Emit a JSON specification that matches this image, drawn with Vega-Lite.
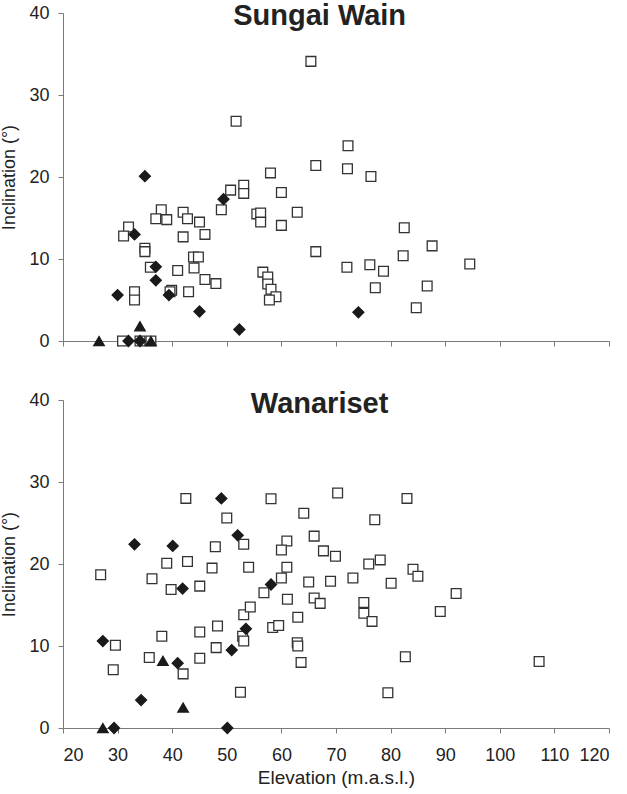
{
  "$schema": "https://vega.github.io/schema/vega-lite/v6.json",
  "background": "white",
  "padding": {"left": 0, "top": 1, "right": 5, "bottom": 5},
  "spacing": 40,
  "config": {
    "view": {"stroke": null},
    "font": "Liberation Sans",
    "axis": {
      "grid": false,
      "domainColor": "#7a7a7a",
      "tickColor": "#7a7a7a",
      "tickSize": 5,
      "labelFont": "Liberation Sans",
      "labelFontSize": 18,
      "labelColor": "#222222",
      "titleFont": "Liberation Sans",
      "titleFontSize": 18,
      "titleFontWeight": "normal",
      "titleColor": "#222222"
    }
  },
  "datasets": {
    "pts": [
      {"site": "Sungai Wain", "elevation": 58.0, "inclination": 20.5, "group": "S1"},
      {"site": "Sungai Wain", "elevation": 50.7, "inclination": 18.4, "group": "S1"},
      {"site": "Sungai Wain", "elevation": 53.1, "inclination": 19.0, "group": "S1"},
      {"site": "Sungai Wain", "elevation": 53.1, "inclination": 18.0, "group": "S1"},
      {"site": "Sungai Wain", "elevation": 60.0, "inclination": 18.1, "group": "S1"},
      {"site": "Sungai Wain", "elevation": 49.0, "inclination": 16.0, "group": "S1"},
      {"site": "Sungai Wain", "elevation": 55.5, "inclination": 15.5, "group": "S1"},
      {"site": "Sungai Wain", "elevation": 56.2, "inclination": 15.6, "group": "S1"},
      {"site": "Sungai Wain", "elevation": 56.2, "inclination": 14.5, "group": "S1"},
      {"site": "Sungai Wain", "elevation": 60.0, "inclination": 14.1, "group": "S1"},
      {"site": "Sungai Wain", "elevation": 62.9, "inclination": 15.7, "group": "S1"},
      {"site": "Sungai Wain", "elevation": 38.0, "inclination": 16.0, "group": "S1"},
      {"site": "Sungai Wain", "elevation": 37.0, "inclination": 14.9, "group": "S1"},
      {"site": "Sungai Wain", "elevation": 39.0, "inclination": 14.8, "group": "S1"},
      {"site": "Sungai Wain", "elevation": 42.0, "inclination": 15.7, "group": "S1"},
      {"site": "Sungai Wain", "elevation": 42.8, "inclination": 14.9, "group": "S1"},
      {"site": "Sungai Wain", "elevation": 45.0, "inclination": 14.5, "group": "S1"},
      {"site": "Sungai Wain", "elevation": 46.0, "inclination": 13.0, "group": "S1"},
      {"site": "Sungai Wain", "elevation": 42.0, "inclination": 12.7, "group": "S1"},
      {"site": "Sungai Wain", "elevation": 32.0, "inclination": 13.9, "group": "S1"},
      {"site": "Sungai Wain", "elevation": 31.1, "inclination": 12.8, "group": "S1"},
      {"site": "Sungai Wain", "elevation": 35.0, "inclination": 11.3, "group": "S1"},
      {"site": "Sungai Wain", "elevation": 35.0, "inclination": 10.9, "group": "S1"},
      {"site": "Sungai Wain", "elevation": 43.9, "inclination": 10.25, "group": "S1"},
      {"site": "Sungai Wain", "elevation": 44.8, "inclination": 10.25, "group": "S1"},
      {"site": "Sungai Wain", "elevation": 66.3, "inclination": 10.9, "group": "S1"},
      {"site": "Sungai Wain", "elevation": 36.0, "inclination": 9.0, "group": "S1"},
      {"site": "Sungai Wain", "elevation": 41.0, "inclination": 8.6, "group": "S1"},
      {"site": "Sungai Wain", "elevation": 44.0, "inclination": 8.9, "group": "S1"},
      {"site": "Sungai Wain", "elevation": 46.0, "inclination": 7.5, "group": "S1"},
      {"site": "Sungai Wain", "elevation": 48.0, "inclination": 7.0, "group": "S1"},
      {"site": "Sungai Wain", "elevation": 56.6, "inclination": 8.4, "group": "S1"},
      {"site": "Sungai Wain", "elevation": 57.5, "inclination": 7.8, "group": "S1"},
      {"site": "Sungai Wain", "elevation": 57.5, "inclination": 6.95, "group": "S1"},
      {"site": "Sungai Wain", "elevation": 58.1, "inclination": 6.3, "group": "S1"},
      {"site": "Sungai Wain", "elevation": 59.0, "inclination": 5.4, "group": "S1"},
      {"site": "Sungai Wain", "elevation": 57.8, "inclination": 5.0, "group": "S1"},
      {"site": "Sungai Wain", "elevation": 33.1, "inclination": 6.0, "group": "S1"},
      {"site": "Sungai Wain", "elevation": 33.1, "inclination": 5.0, "group": "S1"},
      {"site": "Sungai Wain", "elevation": 39.9, "inclination": 6.2, "group": "S1"},
      {"site": "Sungai Wain", "elevation": 39.6, "inclination": 6.0, "group": "S1"},
      {"site": "Sungai Wain", "elevation": 43.0, "inclination": 6.0, "group": "S1"},
      {"site": "Sungai Wain", "elevation": 30.9, "inclination": 0, "group": "S1"},
      {"site": "Sungai Wain", "elevation": 34.1, "inclination": 0, "group": "S1"},
      {"site": "Sungai Wain", "elevation": 36.1, "inclination": 0, "group": "S1"},
      {"site": "Sungai Wain", "elevation": 65.4, "inclination": 34.1, "group": "S1"},
      {"site": "Sungai Wain", "elevation": 72.2, "inclination": 23.8, "group": "S1"},
      {"site": "Sungai Wain", "elevation": 66.3, "inclination": 21.4, "group": "S1"},
      {"site": "Sungai Wain", "elevation": 72.1, "inclination": 21.0, "group": "S1"},
      {"site": "Sungai Wain", "elevation": 76.4, "inclination": 20.05, "group": "S1"},
      {"site": "Sungai Wain", "elevation": 51.7, "inclination": 26.8, "group": "S1"},
      {"site": "Sungai Wain", "elevation": 82.5, "inclination": 13.8, "group": "S1"},
      {"site": "Sungai Wain", "elevation": 87.6, "inclination": 11.6, "group": "S1"},
      {"site": "Sungai Wain", "elevation": 82.3, "inclination": 10.4, "group": "S1"},
      {"site": "Sungai Wain", "elevation": 72.0, "inclination": 9.0, "group": "S1"},
      {"site": "Sungai Wain", "elevation": 76.2, "inclination": 9.3, "group": "S1"},
      {"site": "Sungai Wain", "elevation": 78.7, "inclination": 8.5, "group": "S1"},
      {"site": "Sungai Wain", "elevation": 94.5, "inclination": 9.4, "group": "S1"},
      {"site": "Sungai Wain", "elevation": 77.2, "inclination": 6.5, "group": "S1"},
      {"site": "Sungai Wain", "elevation": 86.7, "inclination": 6.7, "group": "S1"},
      {"site": "Sungai Wain", "elevation": 84.7, "inclination": 4.05, "group": "S1"},
      {"site": "Sungai Wain", "elevation": 35.0, "inclination": 20.1, "group": "S2"},
      {"site": "Sungai Wain", "elevation": 49.4, "inclination": 17.3, "group": "S2"},
      {"site": "Sungai Wain", "elevation": 33.1, "inclination": 13.0, "group": "S2"},
      {"site": "Sungai Wain", "elevation": 37.0, "inclination": 9.05, "group": "S2"},
      {"site": "Sungai Wain", "elevation": 37.0, "inclination": 7.4, "group": "S2"},
      {"site": "Sungai Wain", "elevation": 30.0, "inclination": 5.6, "group": "S2"},
      {"site": "Sungai Wain", "elevation": 39.4, "inclination": 5.6, "group": "S2"},
      {"site": "Sungai Wain", "elevation": 45.0, "inclination": 3.6, "group": "S2"},
      {"site": "Sungai Wain", "elevation": 52.3, "inclination": 1.4, "group": "S2"},
      {"site": "Sungai Wain", "elevation": 32.0, "inclination": 0, "group": "S2"},
      {"site": "Sungai Wain", "elevation": 34.1, "inclination": 0, "group": "S2"},
      {"site": "Sungai Wain", "elevation": 74.1, "inclination": 3.5, "group": "S2"},
      {"site": "Sungai Wain", "elevation": 26.6, "inclination": 0, "group": "S3"},
      {"site": "Sungai Wain", "elevation": 34.1, "inclination": 1.8, "group": "S3"},
      {"site": "Sungai Wain", "elevation": 36.1, "inclination": 0, "group": "S3"},

      {"site": "Wanariset", "elevation": 42.5, "inclination": 28.0, "group": "S1"},
      {"site": "Wanariset", "elevation": 58.1, "inclination": 27.95, "group": "S1"},
      {"site": "Wanariset", "elevation": 70.3, "inclination": 28.65, "group": "S1"},
      {"site": "Wanariset", "elevation": 83.0, "inclination": 28.0, "group": "S1"},
      {"site": "Wanariset", "elevation": 50.0, "inclination": 25.6, "group": "S1"},
      {"site": "Wanariset", "elevation": 64.1, "inclination": 26.2, "group": "S1"},
      {"site": "Wanariset", "elevation": 77.1, "inclination": 25.4, "group": "S1"},
      {"site": "Wanariset", "elevation": 47.9, "inclination": 22.1, "group": "S1"},
      {"site": "Wanariset", "elevation": 53.1, "inclination": 22.4, "group": "S1"},
      {"site": "Wanariset", "elevation": 61.0, "inclination": 22.8, "group": "S1"},
      {"site": "Wanariset", "elevation": 60.0, "inclination": 21.7, "group": "S1"},
      {"site": "Wanariset", "elevation": 66.0, "inclination": 23.4, "group": "S1"},
      {"site": "Wanariset", "elevation": 67.7, "inclination": 21.6, "group": "S1"},
      {"site": "Wanariset", "elevation": 69.9, "inclination": 20.95, "group": "S1"},
      {"site": "Wanariset", "elevation": 78.1, "inclination": 20.5, "group": "S1"},
      {"site": "Wanariset", "elevation": 76.0, "inclination": 20.0, "group": "S1"},
      {"site": "Wanariset", "elevation": 84.1, "inclination": 19.35, "group": "S1"},
      {"site": "Wanariset", "elevation": 85.0, "inclination": 18.5, "group": "S1"},
      {"site": "Wanariset", "elevation": 39.0, "inclination": 20.1, "group": "S1"},
      {"site": "Wanariset", "elevation": 42.8, "inclination": 20.3, "group": "S1"},
      {"site": "Wanariset", "elevation": 47.3, "inclination": 19.5, "group": "S1"},
      {"site": "Wanariset", "elevation": 54.0, "inclination": 19.6, "group": "S1"},
      {"site": "Wanariset", "elevation": 61.0, "inclination": 19.6, "group": "S1"},
      {"site": "Wanariset", "elevation": 60.0, "inclination": 18.3, "group": "S1"},
      {"site": "Wanariset", "elevation": 26.9, "inclination": 18.7, "group": "S1"},
      {"site": "Wanariset", "elevation": 36.3, "inclination": 18.2, "group": "S1"},
      {"site": "Wanariset", "elevation": 39.8, "inclination": 16.9, "group": "S1"},
      {"site": "Wanariset", "elevation": 45.05, "inclination": 17.3, "group": "S1"},
      {"site": "Wanariset", "elevation": 56.8, "inclination": 16.5, "group": "S1"},
      {"site": "Wanariset", "elevation": 65.0, "inclination": 17.8, "group": "S1"},
      {"site": "Wanariset", "elevation": 69.0, "inclination": 17.9, "group": "S1"},
      {"site": "Wanariset", "elevation": 73.1, "inclination": 18.3, "group": "S1"},
      {"site": "Wanariset", "elevation": 80.1, "inclination": 17.65, "group": "S1"},
      {"site": "Wanariset", "elevation": 92.0, "inclination": 16.4, "group": "S1"},
      {"site": "Wanariset", "elevation": 53.1, "inclination": 13.8, "group": "S1"},
      {"site": "Wanariset", "elevation": 54.3, "inclination": 14.75, "group": "S1"},
      {"site": "Wanariset", "elevation": 61.1, "inclination": 15.7, "group": "S1"},
      {"site": "Wanariset", "elevation": 66.0, "inclination": 15.85, "group": "S1"},
      {"site": "Wanariset", "elevation": 67.1, "inclination": 15.2, "group": "S1"},
      {"site": "Wanariset", "elevation": 63.0, "inclination": 13.5, "group": "S1"},
      {"site": "Wanariset", "elevation": 58.4, "inclination": 12.25, "group": "S1"},
      {"site": "Wanariset", "elevation": 59.5, "inclination": 12.5, "group": "S1"},
      {"site": "Wanariset", "elevation": 38.1, "inclination": 11.2, "group": "S1"},
      {"site": "Wanariset", "elevation": 45.05, "inclination": 11.7, "group": "S1"},
      {"site": "Wanariset", "elevation": 48.3, "inclination": 12.45, "group": "S1"},
      {"site": "Wanariset", "elevation": 52.9, "inclination": 11.2, "group": "S1"},
      {"site": "Wanariset", "elevation": 53.1, "inclination": 10.6, "group": "S1"},
      {"site": "Wanariset", "elevation": 29.6, "inclination": 10.1, "group": "S1"},
      {"site": "Wanariset", "elevation": 29.2, "inclination": 7.1, "group": "S1"},
      {"site": "Wanariset", "elevation": 35.8, "inclination": 8.6, "group": "S1"},
      {"site": "Wanariset", "elevation": 42.0, "inclination": 6.6, "group": "S1"},
      {"site": "Wanariset", "elevation": 45.05, "inclination": 8.5, "group": "S1"},
      {"site": "Wanariset", "elevation": 48.05, "inclination": 9.8, "group": "S1"},
      {"site": "Wanariset", "elevation": 62.9, "inclination": 10.4, "group": "S1"},
      {"site": "Wanariset", "elevation": 63.0, "inclination": 10.0, "group": "S1"},
      {"site": "Wanariset", "elevation": 63.6, "inclination": 8.0, "group": "S1"},
      {"site": "Wanariset", "elevation": 52.5, "inclination": 4.35, "group": "S1"},
      {"site": "Wanariset", "elevation": 75.1, "inclination": 15.3, "group": "S1"},
      {"site": "Wanariset", "elevation": 75.1, "inclination": 14.0, "group": "S1"},
      {"site": "Wanariset", "elevation": 76.6, "inclination": 13.0, "group": "S1"},
      {"site": "Wanariset", "elevation": 89.1, "inclination": 14.2, "group": "S1"},
      {"site": "Wanariset", "elevation": 82.7, "inclination": 8.7, "group": "S1"},
      {"site": "Wanariset", "elevation": 107.2, "inclination": 8.1, "group": "S1"},
      {"site": "Wanariset", "elevation": 79.5, "inclination": 4.3, "group": "S1"},
      {"site": "Wanariset", "elevation": 49.0, "inclination": 28.0, "group": "S2"},
      {"site": "Wanariset", "elevation": 52.0, "inclination": 23.5, "group": "S2"},
      {"site": "Wanariset", "elevation": 33.1, "inclination": 22.4, "group": "S2"},
      {"site": "Wanariset", "elevation": 40.1, "inclination": 22.2, "group": "S2"},
      {"site": "Wanariset", "elevation": 41.9, "inclination": 17.0, "group": "S2"},
      {"site": "Wanariset", "elevation": 58.1, "inclination": 17.5, "group": "S2"},
      {"site": "Wanariset", "elevation": 53.5, "inclination": 12.1, "group": "S2"},
      {"site": "Wanariset", "elevation": 27.3, "inclination": 10.6, "group": "S2"},
      {"site": "Wanariset", "elevation": 41.0, "inclination": 7.9, "group": "S2"},
      {"site": "Wanariset", "elevation": 50.9, "inclination": 9.5, "group": "S2"},
      {"site": "Wanariset", "elevation": 34.3, "inclination": 3.4, "group": "S2"},
      {"site": "Wanariset", "elevation": 29.35, "inclination": 0, "group": "S2"},
      {"site": "Wanariset", "elevation": 50.1, "inclination": 0, "group": "S2"},
      {"site": "Wanariset", "elevation": 38.3, "inclination": 8.2, "group": "S3"},
      {"site": "Wanariset", "elevation": 42.0, "inclination": 2.5, "group": "S3"},
      {"site": "Wanariset", "elevation": 27.3, "inclination": 0, "group": "S3"}
    ],
    "titles": [
      {"site": "Sungai Wain", "elevation": 67, "inclination": 38.55},
      {"site": "Wanariset", "elevation": 67, "inclination": 38.4}
    ]
  },
  "vconcat": [
    {
      "width": 546,
      "height": 328,
      "layer": [
        {
          "data": {"name": "pts"},
          "transform": [{"filter": "datum.site === 'Sungai Wain'"}],
          "mark": {"type": "point", "filled": true, "opacity": 1, "strokeWidth": 1.3},
          "encoding": {
            "x": {"field": "elevation", "type": "quantitative", "scale": {"domain": [20, 120], "nice": false, "zero": false},
                  "axis": {"values": [20, 30, 40, 50, 60, 70, 80, 90, 100, 110, 120], "labels": false, "title": null}},
            "y": {"field": "inclination", "type": "quantitative", "scale": {"domain": [0, 40], "nice": false},
                  "axis": {"values": [0, 10, 20, 30, 40], "title": "Inclination (°)", "labelPadding": 9, "titlePadding": 10}},
            "shape": {"field": "group", "type": "nominal", "scale": {"domain": ["S1", "S2", "S3"], "range": ["square", "diamond", "triangle-up"]}, "legend": null},
            "fill": {"field": "group", "type": "nominal", "scale": {"domain": ["S1", "S2", "S3"], "range": ["#ffffff", "#1a1a1a", "#1a1a1a"]}, "legend": null},
            "stroke": {"field": "group", "type": "nominal", "scale": {"domain": ["S1", "S2", "S3"], "range": ["#333333", "#1a1a1a", "#1a1a1a"]}, "legend": null},
            "size": {"field": "group", "type": "nominal", "scale": {"type": "ordinal", "domain": ["S1", "S2", "S3"], "range": [95, 120, 110]}, "legend": null}
          }
        },
        {
          "data": {"name": "titles"},
          "transform": [{"filter": "datum.site === 'Sungai Wain'"}],
          "mark": {"type": "text", "font": "Liberation Sans", "fontSize": 29, "fontWeight": "bold", "color": "#222222", "baseline": "alphabetic", "align": "center"},
          "encoding": {
            "x": {"field": "elevation", "type": "quantitative"},
            "y": {"field": "inclination", "type": "quantitative"},
            "text": {"field": "site", "type": "nominal"}
          }
        }
      ]
    },
    {
      "width": 546,
      "height": 328,
      "layer": [
        {
          "data": {"name": "pts"},
          "transform": [{"filter": "datum.site === 'Wanariset'"}],
          "mark": {"type": "point", "filled": true, "opacity": 1, "strokeWidth": 1.3},
          "encoding": {
            "x": {"field": "elevation", "type": "quantitative", "scale": {"domain": [20, 120], "nice": false, "zero": false},
                  "axis": {"values": [20, 30, 40, 50, 60, 70, 80, 90, 100, 110, 120], "title": "Elevation (m.a.s.l.)", "labelPadding": 13, "titlePadding": 4, "titleFontSize": 19}},
            "y": {"field": "inclination", "type": "quantitative", "scale": {"domain": [0, 40], "nice": false},
                  "axis": {"values": [0, 10, 20, 30, 40], "title": "Inclination (°)", "labelPadding": 9, "titlePadding": 10}},
            "shape": {"field": "group", "type": "nominal", "scale": {"domain": ["S1", "S2", "S3"], "range": ["square", "diamond", "triangle-up"]}, "legend": null},
            "fill": {"field": "group", "type": "nominal", "scale": {"domain": ["S1", "S2", "S3"], "range": ["#ffffff", "#1a1a1a", "#1a1a1a"]}, "legend": null},
            "stroke": {"field": "group", "type": "nominal", "scale": {"domain": ["S1", "S2", "S3"], "range": ["#333333", "#1a1a1a", "#1a1a1a"]}, "legend": null},
            "size": {"field": "group", "type": "nominal", "scale": {"type": "ordinal", "domain": ["S1", "S2", "S3"], "range": [95, 120, 110]}, "legend": null}
          }
        },
        {
          "data": {"name": "titles"},
          "transform": [{"filter": "datum.site === 'Wanariset'"}],
          "mark": {"type": "text", "font": "Liberation Sans", "fontSize": 29, "fontWeight": "bold", "color": "#222222", "baseline": "alphabetic", "align": "center"},
          "encoding": {
            "x": {"field": "elevation", "type": "quantitative"},
            "y": {"field": "inclination", "type": "quantitative"},
            "text": {"field": "site", "type": "nominal"}
          }
        }
      ]
    }
  ]
}
